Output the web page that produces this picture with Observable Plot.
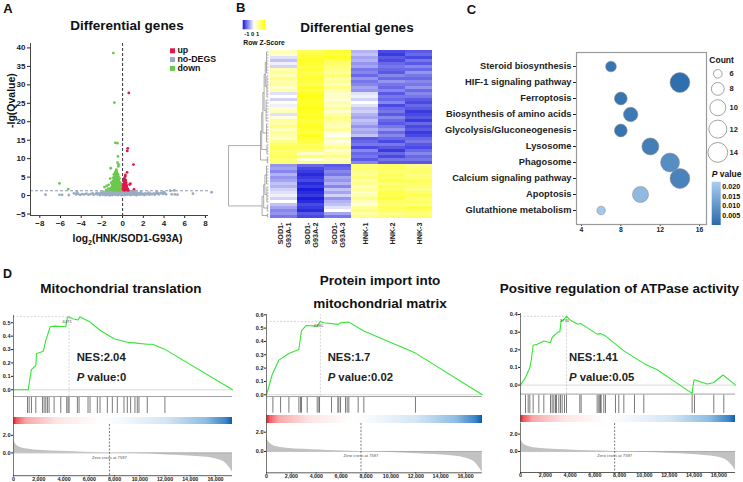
<!DOCTYPE html>
<html><head><meta charset="utf-8">
<script src="https://cdn.jsdelivr.net/npm/d3@7"></script>
<script src="https://cdn.jsdelivr.net/npm/@observablehq/plot@0.6"></script>
<style>
html,body{margin:0;padding:0;background:#fff;}
#root{position:relative;width:743px;height:482px;overflow:hidden;background:#fff;}
#root svg{overflow:visible;}
</style></head><body><div id="root"></div>
<script>
// ---------------- DATA ----------------
// Panel A: volcano plot points [log2FC, -lg(Q)]
const volcanoUp = [[0.6,27.8],[0.5,12.8],[0.45,12.1],[1.05,8.4],[0.43,6.3],[0.27,5.6],[0.25,5.2],[0.2,4.8],[0.15,4.5],[0.3,4.2],[0.1,3.9],[0.2,3.6],[0.35,3.4],[0.75,3.2],[0.68,3.0],[0.1,3.1],[0.25,2.9],[0.15,2.6],[0.3,2.5],[0.4,2.3],[0.08,2.2],[0.2,2.0],[0.35,1.9],[0.5,1.8],[0.12,1.7],[0.28,1.6],[0.45,1.5],[0.06,1.5],[0.2,1.4],[0.55,1.4],[1.1,1.7],[0.38,2.8],[0.22,3.3],[0.05,1.9],[0.15,2.3],[0.05,2.7],[0.12,4.2],[0.3,3.7]];
const volcanoDown = [[-0.9,38.6],[-0.8,25.2],[-0.7,14.3],[-0.5,14.2],[-0.45,10.6],[-0.5,8.9],[-0.38,8.4],[-0.42,7.9],[-1.15,7.4],[-0.6,7.0],[-6.1,3.3],[-5.25,1.75],[-1.75,2.3],[-1.55,2.6],[-1.35,2.9],[-1.2,4.6],[-1.1,3.5],[-1.4,1.9],[-1.6,1.5],
[-1.0,1.5],[-0.9,1.8],[-0.8,2.0],[-0.7,1.6],[-0.6,1.4],[-0.5,1.9],[-0.4,1.5],[-0.3,1.7],[-0.2,1.4],[-0.1,1.6],
[-1.05,2.3],[-0.95,2.6],[-0.85,2.4],[-0.75,2.8],[-0.65,2.2],[-0.55,2.6],[-0.45,2.3],[-0.35,2.7],[-0.25,2.1],[-0.15,2.5],
[-1.0,3.0],[-0.9,3.3],[-0.8,3.1],[-0.7,3.5],[-0.6,3.2],[-0.5,3.6],[-0.4,3.0],[-0.3,3.3],[-0.2,2.9],
[-0.95,3.9],[-0.85,4.2],[-0.75,3.8],[-0.65,4.3],[-0.55,4.0],[-0.45,4.4],[-0.35,3.9],[-0.25,3.6],
[-0.9,4.8],[-0.8,5.1],[-0.7,4.7],[-0.6,5.3],[-0.5,4.9],[-0.4,5.2],[-0.3,4.6],
[-0.85,5.7],[-0.75,6.0],[-0.65,5.6],[-0.55,6.2],[-0.45,5.8],[-0.6,6.6],[-0.7,6.4],
[-1.15,2.0],[-1.25,1.6],[-0.05,2.0],[-0.12,3.1],[-0.18,1.9],[-0.95,1.4],[-0.35,1.4],[-0.15,1.9]];
const volcanoNoDEG = [[-7.45,0.25],[-6.1,0.2],[-5.85,0.2],[-5.2,0.15],[-4.7,0.6],[-4.4,0.9],[4.6,1.3],[4.75,0.35],[5.0,1.4],[5.05,0.3],[5.3,0.25],[6.8,0.5],[8.6,0.9],
[-4.5,0.3],[-4.3,0.45],[-4.1,0.2],[-3.9,0.4],[-3.7,0.3],[-3.5,0.5],[-3.3,0.25],[-3.1,0.4],[-2.9,0.6],[-2.8,0.2],[-2.6,0.45],[-2.5,0.7],[-2.4,0.3],[-2.3,0.55],[-2.2,0.15],[-2.1,0.8],[-2.0,0.4],[-1.95,0.6],
[-1.9,0.2],[-1.85,1.0],[-1.8,0.5],[-1.7,0.8],[-1.65,0.1],[-1.6,0.35],[-1.55,1.1],[-1.5,0.6],[-1.45,0.25],[-1.4,0.9],[-1.35,0.45],[-1.3,1.2],[-1.25,0.05],[-1.2,0.7],[-1.15,0.3],[-1.1,1.0],[-1.05,0.55],[-1.0,0.15],[-0.95,1.25],[-0.9,0.8],[-0.85,0.4],[-0.8,1.1],[-0.75,0.2],[-0.7,0.65],[-0.65,0.95],[-0.6,0.3],[-0.55,1.2],[-0.5,0.5],[-0.45,0.1],[-0.4,0.85],[-0.35,1.05],[-0.3,0.35],[-0.25,0.7],[-0.2,1.2],[-0.15,0.15],[-0.1,0.6],[-0.05,0.95],[0.0,0.3],[0.05,1.1],[0.1,0.5],[0.15,0.8],[0.2,0.1],[0.25,1.0],[0.3,0.4],[0.35,0.75],[0.4,1.2],[0.45,0.2],[0.5,0.6],[0.55,0.95],[0.6,0.35],[0.65,1.15],[0.7,0.5],[0.75,0.15],[0.8,0.85],[0.85,0.4],[0.9,1.05],[0.95,0.25],[1.0,0.7],[1.05,0.5],[1.1,1.0],[1.15,0.2],[1.2,0.6],[1.25,0.35],[1.3,0.9],[1.35,0.1],[1.4,0.55],[1.45,0.75],[1.5,0.3],
[1.6,0.5],[1.7,0.2],[1.8,0.65],[1.9,0.35],[2.0,0.45],[2.1,0.15],[2.2,0.6],[2.3,0.3],[2.45,0.5],[2.6,0.25],[2.7,0.55],[2.85,0.35],[3.0,0.6],[3.1,0.2],[3.25,0.5],[3.4,0.7],[3.5,0.3],[3.65,0.6],[3.8,0.8],[3.9,0.45],[4.0,0.9],[4.1,0.6],[4.2,0.35],[1.75,0.9],[2.5,0.8],[3.3,0.9]];
const volcanoXTicks = [-8,-6,-4,-2,0,2,4,6,8];
const volcanoYTicks = [-5,0,5,10,15,20,25,30,35,40];

// Panel B: heatmap row z-scores (rows top to bottom) per sample
const heatSamples = ["SOD1-G93A-1","SOD1-G93A-2","SOD1-G93A-3","HNK-1","HNK-2","HNK-3"];
const heatLabels = ["SOD1-\nG93A-1","SOD1-\nG93A-2","SOD1-\nG93A-3","HNK-1","HNK-2","HNK-3"];
const zSOD1_1 = [0.4,0.3,-0.2,-0.4,-0.1,-0.3, 0.5,0.6,0.4,0.7,0.5,0.6,0.3,0.5, -0.2,0.0,-0.3,0.1,-0.1,0.3,0.4,-0.2,0.2, 0.6,0.5,0.7,0.4,0.6,0.5,0.3,0.7, 0.9,1.0,0.8,0.9,1.0,0.8,0.9,
  -0.7,-0.6,-0.8,-0.5,-0.7,-0.6,-0.4,-0.5,-0.3,-0.2,-0.1,-0.3,0.0,-0.4,-0.6,-0.8,-0.7,-0.9];
const zSOD1_2 = [1.0,1.1,1.2,1.3,1.2,1.1,1.2,1.0,1.1,1.2,1.1,1.0,1.2,1.1,1.3,1.4,1.3,1.2,1.3,1.4,1.3,1.2,1.3,1.1,1.2,1.3,1.2,1.1,1.3,1.2,1.1,0.9,1.0,0.8,0.3,0.9,0.2,0.7,
  -1.0,-1.2,-1.3,-1.4,-1.3,-1.2,-1.4,-1.3,-1.5,-1.4,-1.3,-1.5,-1.4,-1.2,-1.3,-1.4,-1.1,-1.2];
const zSOD1_3 = [1.2,1.1,1.3,1.0,0.9,0.8,0.7,0.6,0.8,0.5,0.6,0.4,0.7,0.5,0.3,0.4,0.2,0.5,0.4,0.6,0.3,0.5,0.7,0.6,0.5,0.4,0.6,0.3,0.1,0.5,0.2,0.4,0.6,0.3,0.5,0.7,0.4,0.6,
  -1.1,-1.0,-0.8,-0.9,-0.6,-0.7,-0.5,-0.8,-0.4,-0.6,-0.3,-0.7,-0.5,-0.4,-0.2,0.0,-0.6,-0.9];
const zHNK_1 = [-0.5,-0.4,-0.6,-0.5,-0.7,-0.6,-0.9,-0.8,-1.0,-0.7,-0.9,-0.8,-0.6,-0.7,-0.2,-0.1,-0.3,0.0,-0.2,-0.4,-0.3,-0.5,-0.6,-0.4,-0.5,-0.7,-0.5,-0.6,-0.4,-1.1,-1.0,-0.9,-1.2,-0.8,-1.0,-0.9,-1.1,-0.8,
  0.8,0.9,0.7,0.6,0.8,0.5,0.7,0.4,0.6,0.3,0.5,0.7,0.4,0.2,0.6,0.8,0.5,0.7];
const zHNK_2 = [-1.2,-1.3,-1.1,-1.2,-1.0,-0.9,-1.0,-1.1,-0.8,-1.0,-0.7,-0.9,-1.0,-0.8,-1.1,-0.9,-1.0,-0.8,-1.2,-1.0,-0.9,-1.1,-0.8,-1.0,-1.1,-0.9,-0.7,-1.0,-0.8,-1.0,-1.2,-0.9,-1.1,-1.3,-1.0,-1.2,-0.9,-1.1,
  0.9,1.0,0.8,1.0,0.9,1.1,0.8,1.0,0.9,1.1,1.0,1.2,0.9,0.8,1.0,0.9,0.7,0.8];
const zHNK_3 = [-1.1,-1.0,-1.2,-0.9,-1.1,-0.8,-1.0,-0.7,-0.9,-1.0,-0.8,-0.9,-0.7,-1.0,-0.8,-0.9,-1.1,-1.2,-1.0,-1.1,-1.3,-1.2,-1.1,-1.3,-1.0,-1.2,-1.1,-1.3,-1.2,-1.0,-0.9,-1.1,-1.2,-1.0,-0.8,-1.0,-0.9,-1.1,
  0.7,0.8,0.9,0.7,0.8,1.0,0.9,0.8,0.7,0.9,1.0,0.8,0.9,0.7,1.1,0.9,0.8,0.9];
// Row dendrogram: merge heights; leaf groups g = [firstRow, lastRow]
const dendroTree = {h:1.0, c:[
  {h:0.2, c:[
    {h:0.17, c:[
      {h:0.14, c:[
        {h:0.11, c:[
          {h:0.08, c:[{g:[0,7],h:0.05},{g:[8,15],h:0.04}]},
          {g:[16,23],h:0.06}]},
        {g:[24,30],h:0.05}]},
      {g:[31,34],h:0.04}]},
    {g:[35,37],h:0.03}]},
  {h:0.16, c:[
    {h:0.12, c:[
      {h:0.09, c:[{g:[38,44],h:0.05},{g:[45,50],h:0.04}]},
      {g:[51,53],h:0.03}]},
    {g:[54,55],h:0.03}]}
]};

// Panel C: KEGG bubble chart
const pathways = ["Steroid biosynthesis","HIF-1 signaling pathway","Ferroptosis","Biosynthesis of amino acids","Glycolysis/Gluconeogenesis","Lysosome","Phagosome","Calcium signaling pathway","Apoptosis","Glutathione metabolism"];
const pathwayCounts = [7,14,8,9,8,11,13,14,10,6];
const pathwayP = [0.004,0.003,0.004,0.005,0.004,0.006,0.009,0.007,0.018,0.021];
const bubbleXTicks = [4,8,12,16];
const countLegend = [6,8,10,12,14];
const pLegendTicks = [0.020,0.015,0.010,0.005];

// Panel D: GSEA
const N = 17350;
const zeroCross = 7597;
const gseaXTicks = [0,2000,4000,6000,8000,10000,12000,14000,16000];
const rankedMetric = [[0,1.45],[184,0.98],[448,0.68],[843,0.49],[1634,0.34],[2952,0.23],[4270,0.15],[5588,0.075],[7597,0],[9541,-0.075],[12177,-0.23],[14813,-0.45],[15867,-0.64],[16658,-1.02],[17053,-1.58],[17350,-2.2]];
const esMito = [[0,0],[1160,0],[1420,0.15],[1770,0.18],[1820,0.27],[2160,0.28],[2370,0.29],[2560,0.37],[2690,0.405],[2900,0.47],[3220,0.475],[4140,0.47],[4270,0.54],[4400,0.545],[4670,0.53],[5120,0.52],[5250,0.545],[5990,0.51],[6910,0.44],[7970,0.38],[9020,0.355],[9550,0.35],[10600,0.34],[11000,0.34],[11930,0.305],[17350,0]];
const hitsMito = [1107,1239,1423,1766,2293,2425,2557,2688,2820,3216,3743,4217,4323,4402,5061,5192,5904,6062,6642,6853,7433,7828,8223,8750,9014,9278,9620,9805,9937,10596,11993];
const esImport = [[0,0],[456,0.15],[992,0.26],[1796,0.31],[2600,0.34],[2814,0.48],[3189,0.52],[4074,0.515],[4330,0.55],[4610,0.54],[5762,0.528],[5950,0.54],[6620,0.545],[7826,0.478],[9568,0.408],[11980,0.3125],[17350,0]];
const hitsImport = [509,1126,1796,2600,2734,2814,3270,4074,4208,4261,5226,5735,5816,5950,6352,6486,6620,7370,7826,11980];
const esATPase = [[0,0],[403,0.043],[753,0.1],[860,0.138],[1022,0.226],[1344,0.232],[1882,0.25],[2420,0.24],[2554,0.27],[2958,0.298],[3173,0.302],[3280,0.364],[3442,0.368],[3711,0.39],[4033,0.368],[4625,0.345],[4840,0.349],[5378,0.326],[6184,0.289],[6453,0.292],[6857,0.279],[8336,0.194],[9949,0.123],[11025,0.087],[13848,-0.047],[13982,0.025],[14036,0.03],[15058,0.006],[15542,0.013],[16349,0.057],[17350,0]];
const hitsATPase = [403,618,753,1022,1479,1882,2420,2554,2689,2823,2904,3092,3227,3361,3549,3711,4786,4894,6184,6319,6400,6453,6507,6722,6857,7663,7932,8336,9196,9949,13848,14036,15596,16402];
const gseaTitles = ["Mitochondrial translation","Protein import into\nmitochondrial matrix","Positive regulation of ATPase activity"];
const gseaNES = ["2.04","1.7","1.41"];
const gseaP = ["0","0.02","0.05"];
const gseaPeakLabels = ["4471","4360","3730"];

// ---------------- HELPERS ----------------
const FF = '"Liberation Sans", Arial, Helvetica, sans-serif';
const root = document.getElementById("root");
function place(node, left, top) {
  node.style.position = "absolute"; node.style.left = left + "px"; node.style.top = top + "px";
  node.style.maxWidth = "none"; root.appendChild(node); return node;
}
function baseStyle(fs) {
  return {fontFamily: FF, fontSize: fs + "px", fontWeight: "bold", color: "#222", background: "none", overflow: "visible"};
}

// ---------------- PANEL A ----------------
const volcano = Plot.plot({
  width: 215, height: 250, marginLeft: 30, marginRight: 7, marginTop: 43, marginBottom: 35,
  style: baseStyle(8),
  x: {domain: [-8.9, 8.3], ticks: volcanoXTicks, tickSize: 3, tickPadding: 2, label: null},
  y: {domain: [-5.4, 41.2], ticks: volcanoYTicks, tickSize: 3, tickPadding: 2, label: null},
  marks: [
    Plot.ruleY([1.3], {stroke: "#8c96a8", strokeDasharray: "3,2"}),
    Plot.ruleX([0], {stroke: "#333", strokeDasharray: "3,2"}),
    Plot.dot(volcanoNoDEG, {x: d => d[0], y: d => d[1], r: 1.4, fill: "#9aabc4"}),
    Plot.dot(volcanoDown, {x: d => d[0], y: d => d[1], r: 1.4, fill: "#6bc84f"}),
    Plot.dot(volcanoUp, {x: d => d[0], y: d => d[1], r: 1.4, fill: "#e0174a"}),
    Plot.ruleX([-8.9], {stroke: "#444"}),
    Plot.ruleY([-5.4], {stroke: "#444"})
  ]
});
place(volcano, 0, 0);

// ---------------- PANEL B ----------------
const heatColumns = [zSOD1_1, zSOD1_2, zSOD1_3, zHNK_1, zHNK_2, zHNK_3];
const nRows = zSOD1_1.length;
const heatCells = heatColumns.flatMap((col, c) => col.map((z, r) => ({sample: heatSamples[c], row: r, z})));
const heat = Plot.plot({
  width: 215, height: 215, marginLeft: 43, marginRight: 7, marginTop: 10, marginBottom: 37,
  style: baseStyle(7.2),
  x: {domain: heatSamples, padding: 0, axis: null},
  y: {domain: d3.range(nRows), padding: 0, axis: null},
  color: {type: "linear", domain: [-1.5, 0, 1.5], range: ["#1c1cdc", "#ffffff", "#ffff00"], clamp: true},
  marks: [
    Plot.cell(heatCells, {x: "sample", y: "row", fill: "z", shapeRendering: "crispEdges"}),
    Plot.text(heatSamples, {x: d => d, text: (d, i) => heatLabels[i], frameAnchor: "bottom", rotate: -90,
      textAnchor: "end", lineAnchor: "middle", lineHeight: 1.1, dy: 4, fill: "#222"})
  ]
});
place(heat, 225, 40);

function layoutDendro(node, segs) {
  if (node.g) {
    const [a, b] = node.g;
    for (let r = a; r <= b; r++) segs.push({x1: 0, y1: r + 0.5, x2: node.h, y2: r + 0.5});
    segs.push({x1: node.h, y1: a + 0.5, x2: node.h, y2: b + 0.5});
    return {y: (a + b + 1) / 2, h: node.h};
  }
  const kids = node.c.map(k => layoutDendro(k, segs));
  kids.forEach(k => segs.push({x1: k.h, y1: k.y, x2: node.h, y2: k.y}));
  segs.push({x1: node.h, y1: kids[0].y, x2: node.h, y2: kids[kids.length - 1].y});
  return {y: (kids[0].y + kids[kids.length - 1].y) / 2, h: node.h};
}
const dendroSegs = [];
layoutDendro(dendroTree, dendroSegs);
const dendro = Plot.plot({
  width: 45, height: 215, marginLeft: 3, marginRight: 2, marginTop: 10, marginBottom: 37,
  style: baseStyle(7),
  x: {domain: [1, 0], axis: null},
  y: {domain: [0, nRows], reverse: true, axis: null},
  marks: [Plot.link(dendroSegs, {x1: "x1", y1: "y1", x2: "x2", y2: "y2", stroke: "#8a8a8a", strokeWidth: 0.7})]
});
place(dendro, 225, 40);

// ---------------- PANEL C ----------------
const bubbleRows = pathways.map((name, i) => ({name, count: pathwayCounts[i], p: pathwayP[i]}));
const rScale = {type: "linear", domain: [6, 8, 10, 12, 14], range: [4.3, 6.4, 8, 9, 9.9]};
const pColor = {type: "linear", domain: [0.002, 0.022], range: ["#2a6aa9", "#a9cdef"]};
const bubbles = Plot.plot({
  width: 275, height: 200, marginLeft: 141, marginRight: 4, marginTop: 12, marginBottom: 16,
  style: baseStyle(9.3),
  x: {domain: [3.5, 16.7], ticks: bubbleXTicks, tickSize: 2, tickPadding: 1, label: null},
  y: {type: "point", domain: pathways, padding: 0.625, tickSize: 3, tickPadding: 2, label: null},
  r: rScale,
  color: pColor,
  marks: [
    Plot.frame({stroke: "#9a9a9a", strokeWidth: 1.2}),
    Plot.dot(bubbleRows, {x: "count", y: "name", r: "count", fill: "p", stroke: "#8f8f8f", strokeWidth: 0.6})
  ]
});
d3.select(bubbles).selectAll('[aria-label^="x-axis"] text').attr("font-size", 6.8);
place(bubbles, 435, 40);

// Count legend (sizes from the same r scale, stacked)
const rLin = d3.scaleLinear(rScale.domain, rScale.range);
const countY = [];
countLegend.forEach((c, i) => {
  countY.push(i === 0 ? rLin(c) : countY[i - 1] + rLin(countLegend[i - 1]) + rLin(c) + 4.4);
});
const countLeg = Plot.plot({
  width: 38, height: 95, marginLeft: 0, marginRight: 0, marginTop: 0, marginBottom: 0,
  style: baseStyle(7.5),
  x: {type: "identity", axis: null}, y: {type: "identity", axis: null}, r: rScale,
  marks: [
    Plot.dot(countLegend, {x: () => 12.3, y: (d, i) => countY[i], r: d => d, fill: "white", stroke: "#8a8a8a", strokeWidth: 0.8}),
    Plot.text(countLegend, {x: () => 24, y: (d, i) => countY[i], text: d => String(d), textAnchor: "start", fill: "#222"})
  ]
});
d3.select(countLeg).selectAll('[aria-label$="axis"], [aria-label*="axis "]').remove();
place(countLeg, 705, 69);

// ---------------- PANEL D ----------------
const cbStops = [0, 0.015, 0.06, 0.2, 0.4, 0.5, 0.7, 0.88, 0.97, 1];
const cbColors = ["#e3161f", "#ef5a5e", "#f7a9aa", "#fde4e4", "#ffffff", "#f4f8fc", "#d4e5f4", "#8ebce2", "#3d86c8", "#0b5eae"];
const cbColor = d3.scaleLinear(cbStops.map(t => t * N), cbColors);
const cbCells = d3.range(0, N, 40);

function gsea(cfg) {
  const xN = cfg.x0 + N * cfg.scale;
  const width = Math.ceil(xN + 2) - cfg.left;
  const ml = cfg.x0 - cfg.left;
  const mr = width - (xN - cfg.left);
  const X = {domain: [0, N], axis: null};
  const st = baseStyle(5.6);
  const es = Plot.plot({
    width, height: cfg.esBottom - cfg.esTop, marginLeft: ml, marginRight: mr, marginTop: 0, marginBottom: 0,
    style: st, x: X,
    y: {domain: cfg.esDom, ticks: cfg.esTicks, tickFormat: ".1f", tickSize: 2, tickPadding: 1, label: null},
    marks: [
      Plot.ruleY([0], {stroke: "#cfcfcf", strokeWidth: 0.8}),
      Plot.ruleY([cfg.peak[1]], {x1: 0, x2: cfg.peak[0], stroke: "#c4c4c4", strokeDasharray: "2,1.5", strokeWidth: 0.7}),
      Plot.ruleX([cfg.peak[0]], {y1: cfg.esDom[0], y2: cfg.esDom[1], stroke: "#c4c4c4", strokeDasharray: "2,1.5", strokeWidth: 0.7}),
      Plot.line(cfg.es, {x: d => d[0], y: d => d[1], stroke: "#33e633", strokeWidth: 1.1}),
      Plot.text([cfg.peakLabel], {x: () => cfg.peak[0], y: () => cfg.peak[1], dy: 4.5, dx: -2, text: d => d, fontSize: 4.3, fontWeight: "normal", fill: "#555"}),
      Plot.ruleY([cfg.esDom[0]], {stroke: "#8a8a8a", strokeWidth: 0.8}),
      Plot.ruleX([0], {stroke: "#555", strokeWidth: 0.8})
    ]
  });
  place(es, cfg.left, cfg.esTop);

  const hits = Plot.plot({
    width, height: cfg.hitsBottom - cfg.esBottom, marginLeft: ml, marginRight: mr, marginTop: 0, marginBottom: 0,
    style: st, x: X, y: {domain: [0, 1], axis: null},
    marks: [
      Plot.ruleX(cfg.hits, {stroke: "#6b6b6b", strokeWidth: 0.9, insetTop: cfg.hitsTop - cfg.esBottom}),
      Plot.ruleX([0], {stroke: "#555", strokeWidth: 0.8})
    ]
  });
  place(hits, cfg.left, cfg.esBottom);

  const cb = Plot.plot({
    width, height: cfg.cbBottom - cfg.hitsBottom, marginLeft: ml, marginRight: mr, marginTop: 0, marginBottom: 0,
    style: st, x: X, y: {domain: [0, 1], axis: null}, color: {type: "identity"},
    marks: [
      Plot.rect(cbCells, {x1: d => d, x2: d => Math.min(d + 40, N), y1: 0, y2: 1, fill: d => cbColor(d + 20),
        insetTop: cfg.cbTop - cfg.hitsBottom, shapeRendering: "crispEdges"}),
      Plot.ruleX([0], {stroke: "#555", strokeWidth: 0.8})
    ]
  });
  place(cb, cfg.left, cfg.hitsBottom);

  const rk = Plot.plot({
    width, height: cfg.rkBottom - cfg.cbBottom + 6, marginLeft: ml, marginRight: mr, marginTop: 0, marginBottom: 6,
    style: baseStyle(5.3),
    x: {domain: [0, N], ticks: gseaXTicks, tickFormat: d3.format(","), tickSize: 1.2, tickPadding: 0, label: null},
    y: {domain: cfg.rkDom, ticks: [0, 2], tickSize: 2, tickPadding: 1, label: null},
    marks: [
      Plot.areaY(rankedMetric, {x: d => d[0], y1: 0, y2: d => d[1], fill: "#c2c2c2", curve: "monotone-x"}),
      Plot.ruleY([0], {stroke: "#9a9a9a", strokeWidth: 0.6}),
      Plot.ruleX([zeroCross], {stroke: "#444", strokeDasharray: "2,1.5", strokeWidth: 0.7}),
      Plot.text(["Zero cross at " + zeroCross], {x: () => zeroCross, y: () => 0, dy: 4.5, text: d => d, fontSize: 4.2, fontWeight: "normal", fill: "#555"}),
      Plot.ruleY([cfg.rkDom[0]], {stroke: "#333", strokeWidth: 0.8}),
      Plot.ruleX([0], {stroke: "#555", strokeWidth: 0.8})
    ]
  });
  d3.select(rk).selectAll('[aria-label^="y-axis"] text').attr("font-size", 5.6);
  place(rk, cfg.left, cfg.cbBottom);
}

gsea({left: 0, x0: 13, scale: 202 / 16000, es: esMito, hits: hitsMito, peak: [4400, 0.545], peakLabel: gseaPeakLabels[0],
  esDom: [-0.05, 0.554], esTicks: [0, 0.1, 0.2, 0.3, 0.4, 0.5], esTop: 315, esBottom: 396,
  hitsTop: 397, hitsBottom: 413, cbTop: 416.7, cbBottom: 424.3, rkBottom: 475.5, rkDom: [-2.6, 3.24]});
gsea({left: 245, x0: 266, scale: 199 / 16000, es: esImport, hits: hitsImport, peak: [4330, 0.55], peakLabel: gseaPeakLabels[1],
  esDom: [-0.013, 0.602], esTicks: [0, 0.1, 0.2, 0.3, 0.4, 0.5, 0.6], esTop: 314, esBottom: 396,
  hitsTop: 397, hitsBottom: 412.7, cbTop: 415, cbBottom: 423, rkBottom: 472.3, rkDom: [-2.21, 2.9]});
gsea({left: 490, x0: 520, scale: 198.3 / 16000, es: esATPase, hits: hitsATPase, peak: [3711, 0.39], peakLabel: gseaPeakLabels[2],
  esDom: [-0.051, 0.406], esTicks: [0, 0.1, 0.2, 0.3, 0.4], esTop: 312.7, esBottom: 393.3,
  hitsTop: 395, hitsBottom: 413.3, cbTop: 415, cbBottom: 422.7, rkBottom: 471.7, rkDom: [-2.41, 3.22]});

// ---------------- TEXT / LEGEND OVERLAY ----------------
const ov = d3.create("svg").attr("width", 743).attr("height", 482)
  .style("position", "absolute").style("left", "0px").style("top", "0px")
  .style("pointer-events", "none").style("font-family", FF);
function txt(x, y, parts, o = {}) {
  const t = ov.append("text").attr("x", x).attr("y", y)
    .attr("font-size", o.size || 10).attr("font-weight", o.weight || "bold")
    .attr("text-anchor", o.anchor || "start").attr("fill", o.fill || "#111");
  if (o.rotate) t.attr("transform", `rotate(${o.rotate},${x},${y})`);
  (Array.isArray(parts) ? parts : [parts]).forEach(p => {
    if (typeof p === "string") t.append("tspan").text(p);
    else {
      const s = t.append("tspan").text(p.t);
      if (p.italic) s.attr("font-style", "italic");
      if (p.size) s.attr("font-size", p.size);
      if (p.dy) s.attr("dy", p.dy);
    }
  });
  return t;
}
// panel letters
txt(3.3, 12.7, "A", {size: 13});
txt(236, 12.3, "B", {size: 13});
txt(466.7, 13.5, "C", {size: 13});
txt(3, 278, "D", {size: 12.5});
// titles
txt(127, 30, "Differential genes", {size: 13.5, anchor: "middle"});
txt(357, 32.3, "Differential genes", {size: 13.5, anchor: "middle"});
txt(120.8, 292.5, gseaTitles[0], {size: 13.5, anchor: "middle"});
const t2 = gseaTitles[1].split("\n");
txt(380, 285, t2[0], {size: 13.5, anchor: "middle"});
txt(380, 308.3, t2[1], {size: 13.5, anchor: "middle"});
txt(619.3, 292.5, gseaTitles[2], {size: 13.5, anchor: "middle"});
// volcano axis labels
txt(127.5, 242, ["log", {t: "2", size: 7, dy: 2.5}, {t: "(HNK/SOD1-G93A)", dy: -2.5}], {size: 10.3, anchor: "middle"});
txt(15, 128, "-lg(Qvalue)", {size: 10.5, rotate: -90});
// volcano legend
[["up", "#e0174a", 48.3], ["no-DEGS", "#9aabc4", 57.1], ["down", "#6bc84f", 65.9]].forEach(([lab, col, y]) => {
  ov.append("rect").attr("x", 170).attr("y", y).attr("width", 5).attr("height", 5).attr("fill", col);
  txt(177.5, y + 5.1, lab, {size: 8.8});
});
// z-score key
const defs = ov.append("defs");
const gz = defs.append("linearGradient").attr("id", "gz").attr("x1", "0").attr("x2", "1").attr("y1", "0").attr("y2", "0");
[["0%", "#1c1cdc"], ["50%", "#ffffff"], ["100%", "#ffff00"]].forEach(([o, c]) => gz.append("stop").attr("offset", o).attr("stop-color", c));
ov.append("rect").attr("x", 242.7).attr("y", 20).attr("width", 22.6).attr("height", 9.3).attr("fill", "url(#gz)");
txt(244.3, 36, "-1 0 1", {size: 5.8});
txt(243.3, 44.5, "Row Z-Score", {size: 6.8});
// count + p legend
txt(709.3, 62.5, "Count", {size: 8.5});
txt(711.7, 177, [{t: "P", italic: true}, " value"], {size: 8.5});
const gp = defs.append("linearGradient").attr("id", "gp").attr("x1", "0").attr("x2", "0").attr("y1", "0").attr("y2", "1");
[["0%", pColor.range[1]], ["100%", pColor.range[0]]].forEach(([o, c]) => gp.append("stop").attr("offset", o).attr("stop-color", c));
ov.append("rect").attr("x", 711.7).attr("y", 181.7).attr("width", 9).attr("height", 43.3).attr("fill", "url(#gp)");
const pLegY = d3.scaleLinear([0.0225, 0], [181.7, 225]);
pLegendTicks.forEach(v => txt(722.3, pLegY(v) + 2.5, d3.format(".3f")(v), {size: 7.2}));
// NES and P value annotations
[[76.7, 0], [327.7, 1], [569, 2]].forEach(([x, i]) => {
  txt(x, 360.5, "NES:" + gseaNES[i], {size: 11.3, fill: "#222"});
  txt(x, 380.5, [{t: "P", italic: true}, " value:" + gseaP[i]], {size: 11.3, fill: "#222"});
});
root.appendChild(ov.node());
</script></body></html>
